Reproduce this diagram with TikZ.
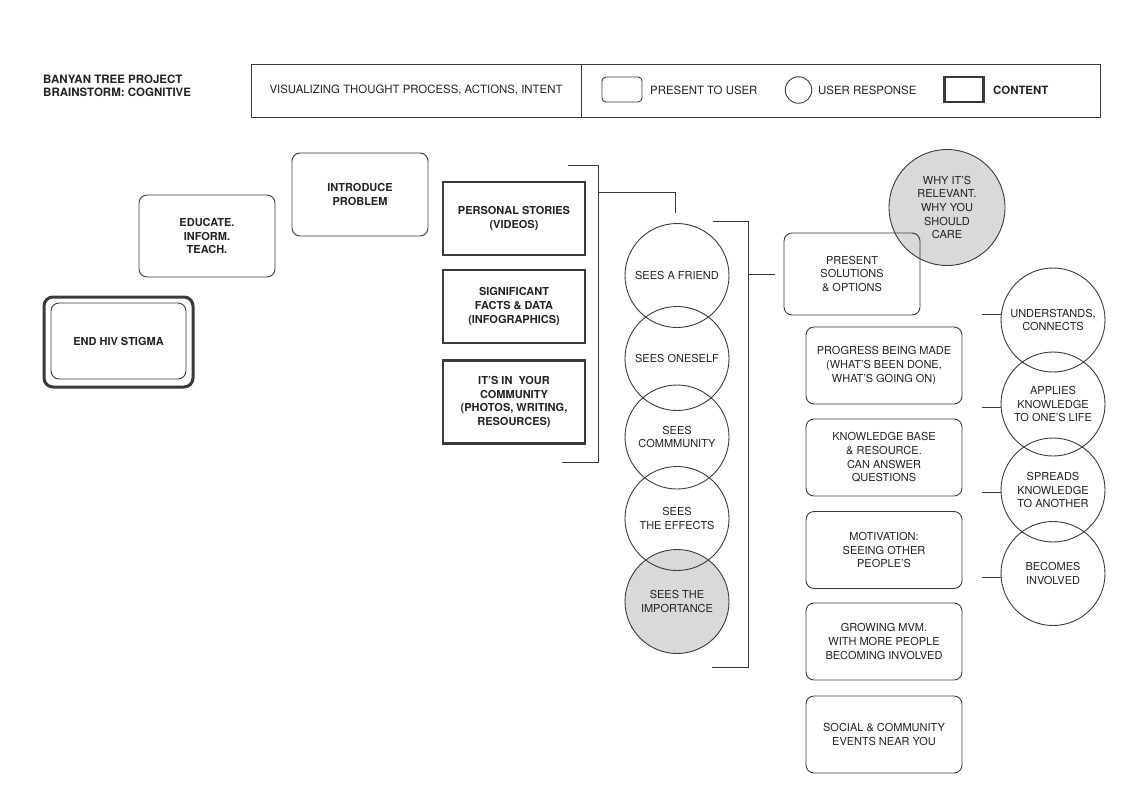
\documentclass[tikz,border=0pt]{standalone}
\usepackage{fontspec}
\setmainfont{TeX Gyre Heros}
\usepackage{xcolor}
\usetikzlibrary{positioning,calc}
\definecolor{inkgray}{HTML}{3A3A3A}
\definecolor{fillgray}{HTML}{D9D9D9}
\definecolor{textgray}{HTML}{222222}
\tikzset{
  every node/.style={text=textgray, align=center, font=\fontsize{11}{13.7}\selectfont},
  presentbox/.style={draw=inkgray, line width=0.9pt, rounded corners=8pt, inner sep=0pt},
  keybox/.style={presentbox, font=\fontsize{11}{13.7}\selectfont\bfseries},
  contentbox/.style={draw=inkgray, line width=2.4pt, inner sep=0pt, font=\fontsize{11}{13.7}\selectfont\bfseries},
  response/.style={draw=inkgray, line width=0.9pt, circle, minimum size=104pt, inner sep=0pt},
  stem/.style={draw=inkgray, line width=1pt},
  legendtext/.style={anchor=west, inner sep=0pt, font=\fontsize{11.4}{13}\selectfont},
}

\begin{document}
\begin{tikzpicture}[x=1pt,y=-1pt]
        \useasboundingbox (0,0) rectangle (1142,798);

        % Header and legend
        \node[anchor=west, align=left, inner sep=0pt, font=\fontsize{11.5}{13}\selectfont\bfseries] (title) at (43,86) {BANYAN TREE PROJECT\\BRAINSTORM: COGNITIVE};
        \node[draw=inkgray, line width=0.9pt, minimum width=330, minimum height=53, inner sep=0pt, font=\fontsize{11.4}{13}\selectfont] (headleft) at (416,90.5) {VISUALIZING THOUGHT PROCESS, ACTIONS, INTENT};
        \node[draw=inkgray, line width=0.9pt, minimum width=519, minimum height=53, inner sep=0pt] (headright) at (840.5,90.5) {};
        \node[presentbox, rounded corners=4pt, minimum width=40, minimum height=25] (legpresent) at (622,89.5) {};
        \node[legendtext] (legpresenttxt) at (650,90) {PRESENT TO USER};
        \node[response, minimum size=26.5pt] (legresponse) at (798.5,90) {};
        \node[legendtext] (legresponsetxt) at (818,90) {USER RESPONSE};
        \node[contentbox, minimum width=39, minimum height=25] (legcontent) at (964,89.5) {};
        \node[legendtext, font=\fontsize{11.4}{13}\selectfont\bfseries] (legcontenttxt) at (993,90) {CONTENT};

        % Goals
        \node[keybox, minimum width=135, minimum height=76] (stigma) at (118.5,341) {END HIV STIGMA};
        \node[draw=inkgray, line width=3pt, rounded corners=9pt, minimum width=149, minimum height=90] (stigmaframe) at (118.5,342) {};
        \node[keybox, minimum width=136, minimum height=82] (educate) at (207,236) {EDUCATE.\\INFORM.\\TEACH.};
        \node[keybox, minimum width=136, minimum height=83] (introduce) at (360,194.5) {INTRODUCE\\PROBLEM};

        % Content
        \node[contentbox, minimum width=142, minimum height=73] (stories) at (514,218.5) {PERSONAL STORIES\\(VIDEOS)};
        \node[contentbox, minimum width=142, minimum height=73] (facts) at (514,306.5) {SIGNIFICANT\\FACTS \& DATA\\(INFOGRAPHICS)};
        \node[contentbox, minimum width=142, minimum height=83] (community) at (514,402) {IT’S IN\ \ YOUR\\COMMUNITY\\(PHOTOS, WRITING,\\RESOURCES)};
        \coordinate (bracketAtop) at (568,165);
        \coordinate (bracketAne) at (598,165);
        \coordinate (bracketAse) at (598,462);
        \coordinate (bracketAbot) at (562,462);
        \coordinate (bracketAjoint) at (598,192);
        \coordinate (bracketAend) at (675,213);
        \draw[stem] (bracketAtop) -- (bracketAne) -- (bracketAse) -- (bracketAbot);
        \draw[stem] (bracketAjoint) -| (bracketAend);

        % User responses
        \node[response, fill=fillgray] (importance) at (677,601.5) {SEES THE\\IMPORTANCE};
        \node[response] (friend) at (677,275.5) {SEES A FRIEND};
        \node[response] (oneself) at (677,358.5) {SEES ONESELF};
        \node[response] (commmunity) at (677,437) {SEES\\COMMMUNITY};
        \node[response] (effects) at (677,518.5) {SEES\\THE EFFECTS};
        \coordinate (bracketBtop) at (713,221);
        \coordinate (bracketBne) at (748,221);
        \coordinate (bracketBse) at (748,667);
        \coordinate (bracketBbot) at (712,667);
        \coordinate (bracketBjoint) at (748,274);
        \coordinate (bracketBend) at (775,274);
        \draw[stem] (bracketBtop) -- (bracketBne) -- (bracketBse) -- (bracketBbot);
        \draw[stem] (bracketBjoint) -- (bracketBend);

        % Solutions
        \node[response, minimum size=116pt, fill=fillgray] (relevant) at (947,207.5) {WHY IT’S\\RELEVANT.\\WHY YOU\\SHOULD\\CARE};
        \node[presentbox, minimum width=136, minimum height=82] (solutions) at (852,274) {PRESENT\\SOLUTIONS\\\& OPTIONS};
        \node[presentbox, minimum width=156, minimum height=77] (progress) at (884,365.5) {PROGRESS BEING MADE\\(WHAT’S BEEN DONE,\\WHAT’S GOING ON)};
        \node[presentbox, minimum width=156, minimum height=77] (knowledge) at (884,457.5) {KNOWLEDGE BASE\\\& RESOURCE.\\CAN ANSWER\\QUESTIONS};
        \node[presentbox, minimum width=156, minimum height=77] (motivation) at (884,550) {MOTIVATION:\\SEEING OTHER\\PEOPLE’S};
        \node[presentbox, minimum width=156, minimum height=77] (growing) at (884,641.5) {GROWING MVM.\\WITH MORE PEOPLE\\BECOMING INVOLVED};
        \node[presentbox, minimum width=156, minimum height=77] (social) at (884,734.5) {SOCIAL \& COMMUNITY\\EVENTS NEAR YOU};

        % Outcomes
        \node[response] (understands) at (1053,320) {UNDERSTANDS,\\CONNECTS};
        \node[response] (applies) at (1053,404) {APPLIES\\KNOWLEDGE\\TO ONE’S LIFE};
        \node[response] (spreads) at (1053,490) {SPREADS\\KNOWLEDGE\\TO ANOTHER};
        \node[response] (involved) at (1053,573.5) {BECOMES\\INVOLVED};
        \coordinate (stubA) at (982,314);
        \coordinate (stubB) at (982,407);
        \coordinate (stubC) at (982,492);
        \coordinate (stubD) at (982,577);
        \draw[stem] (stubA) -- (stubA -| understands.west);
        \draw[stem] (stubB) -- (stubB -| applies.west);
        \draw[stem] (stubC) -- (stubC -| spreads.west);
        \draw[stem] (stubD) -- (stubD -| involved.west);
    \end{tikzpicture}
\end{document}
